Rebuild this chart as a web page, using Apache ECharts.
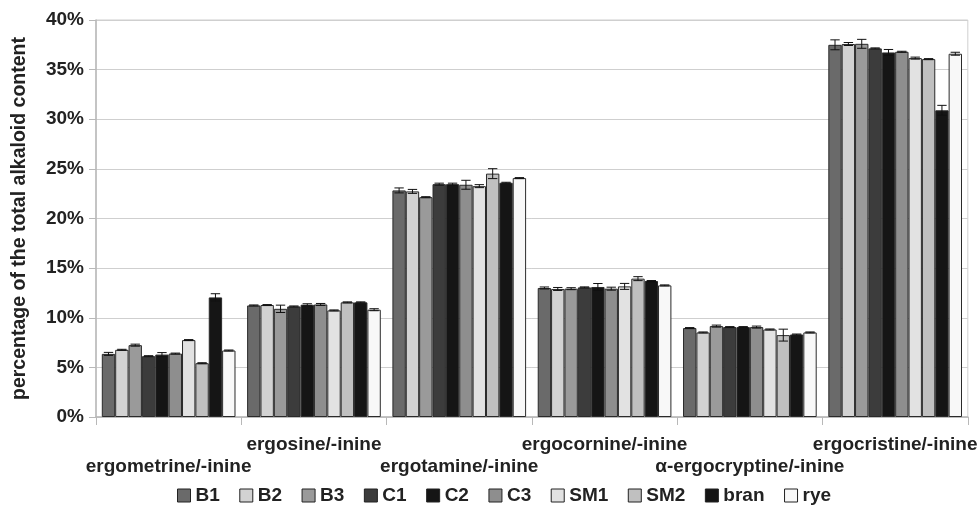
<!DOCTYPE html>
<html><head><meta charset="utf-8">
<script src="https://cdn.jsdelivr.net/npm/echarts@6/dist/echarts.min.js"></script>
<style>html,body{margin:0;padding:0;background:#fff}#c{width:980px;height:515px}</style>
</head><body><div id="c"></div>
<script>
const categories = ['ergometrine/-inine','ergosine/-inine','ergotamine/-inine','ergocornine/-inine','α-ergocryptine/-inine','ergocristine/-inine'];
const seriesNames = ['B1','B2','B3','C1','C2','C3','SM1','SM2','bran','rye'];
const colors = ['#6a6a6a','#d2d2d2','#9a9a9a','#3c3c3c','#151515','#8e8e8e','#e2e2e2','#c0c0c0','#151515','#f8f8f8'];
// values in % per series, across categories
const B1   = [6.36, 11.24, 22.83, 13.00, 8.96, 37.50];
const B2   = [6.77, 11.28, 22.73, 12.90, 8.52, 37.58];
const B3   = [7.24, 10.90, 22.15, 12.93, 9.16, 37.60];
const C1   = [6.13, 11.14, 23.46, 13.06, 9.06, 37.14];
const C2   = [6.29, 11.31, 23.46, 13.10, 9.06, 36.73];
const C3   = [6.39, 11.34, 23.40, 12.93, 9.06, 36.80];
const SM1  = [7.75, 10.74, 23.26, 13.16, 8.82, 36.16];
const SM2  = [5.42, 11.55, 24.52, 13.94, 8.25, 36.06];
const bran = [12.05, 11.55, 23.60, 13.70, 8.31, 30.90];
const rye  = [6.70, 10.81, 24.07, 13.26, 8.52, 36.60];
// error (±) per series
const B1err   = [0.15, 0.05, 0.25, 0.10, 0.05, 0.50];
const B2err   = [0.05, 0.05, 0.20, 0.15, 0.05, 0.15];
const B3err   = [0.10, 0.37, 0.05, 0.10, 0.10, 0.45];
const C1err   = [0.05, 0.05, 0.10, 0.05, 0.05, 0.05];
const C2err   = [0.20, 0.10, 0.10, 0.35, 0.05, 0.30];
const C3err   = [0.05, 0.10, 0.45, 0.15, 0.10, 0.05];
const SM1err  = [0.05, 0.05, 0.15, 0.30, 0.05, 0.10];
const SM2err  = [0.05, 0.05, 0.50, 0.20, 0.60, 0.05];
const branerr = [0.37, 0.05, 0.05, 0.05, 0.05, 0.50];
const ryeerr  = [0.05, 0.10, 0.05, 0.05, 0.05, 0.15];
const yTicks = [0,5,10,15,20,25,30,35,40];

const values = [B1,B2,B3,C1,C2,C3,SM1,SM2,bran,rye];
const errors = [B1err,B2err,B3err,C1err,C2err,C3err,SM1err,SM2err,branerr,ryeerr];
const gapPct = 0.08;
const N = seriesNames.length;
const FONT = 'Liberation Sans, Arial, sans-serif';

const barSeries = seriesNames.map((n,i)=>({
  name:n, type:'bar', data:values[i], barGap:'0%', barCategoryGap:(gapPct*100)+'%',
  itemStyle:{color:colors[i], borderColor:'#2a2a2a', borderWidth:1},
  z:2
}));

const errData = [];
values.forEach((arr,si)=>arr.forEach((v,ci)=>errData.push([ci, si, v, errors[si][ci]])));

const errSeries = {
  type:'custom', name:'err', z:5, silent:true,
  renderItem:function(params, api){
    const ci = api.value(0), si = api.value(1), v = api.value(2), e = api.value(3);
    const band = api.size([1,0])[0];
    const inner = band*(1-gapPct);
    const bw = inner/N;
    const c = api.coord([ci, v]);
    const x = c[0] - inner/2 + (si+0.5)*bw;
    const yTop = api.coord([ci, v+e])[1];
    const yBot = api.coord([ci, v-e])[1];
    const cap = bw*0.35;
    const st = {stroke:'#111', lineWidth:1};
    return {type:'group', children:[
      {type:'line', shape:{x1:x,y1:yTop,x2:x,y2:yBot}, style:st},
      {type:'line', shape:{x1:x-cap,y1:yTop,x2:x+cap,y2:yTop}, style:st},
      {type:'line', shape:{x1:x-cap,y1:yBot,x2:x+cap,y2:yBot}, style:st}
    ]};
  },
  data:errData
};

const chart = echarts.init(document.getElementById('c'), null, {renderer:'canvas'});
chart.setOption({
  animation:false,
  backgroundColor:'#fff',
  textStyle:{fontFamily:FONT},
  grid:{left:96, right:6, top:20, bottom:98, show:true, borderColor:'#cfcfcf', borderWidth:1},
  legend:{
    data:seriesNames, bottom:5, left:172, itemWidth:13, itemHeight:13, itemGap:19.5, icon:'rect',
    textStyle:{fontSize:19, fontWeight:'bold', color:'#222', fontFamily:FONT},
    itemStyle:{borderColor:'#222', borderWidth:1}
  },
  xAxis:{
    type:'category', data:categories,
    axisLine:{lineStyle:{color:'#b8b8b8', width:1.5}},
    axisTick:{show:true, length:8, lineStyle:{color:'#b8b8b8'}},
    axisLabel:{
      interval:0, margin:17, color:'#222', fontSize:19, fontWeight:'bold',
      lineHeight:22, verticalAlign:'top',
      formatter:function(val, idx){ return idx%2===1 ? val : '\n'+val; }
    }
  },
  yAxis:{
    type:'value', min:0, max:40, interval:5,
    name:'percentage of the total alkaloid content', nameLocation:'middle', nameGap:66,
    nameTextStyle:{fontSize:19.5, fontWeight:'bold', color:'#222'},
    axisLine:{show:true, lineStyle:{color:'#b8b8b8', width:1.5}},
    axisTick:{show:true, length:7, lineStyle:{color:'#b8b8b8'}},
    splitLine:{lineStyle:{color:'#cfcfcf'}},
    axisLabel:{color:'#222', fontSize:19, fontWeight:'bold', margin:12,
      formatter:function(v){ return yTicks.indexOf(v)>=0 ? v+'%' : ''; }}
  },
  series:[...barSeries, errSeries]
});
</script></body></html>
